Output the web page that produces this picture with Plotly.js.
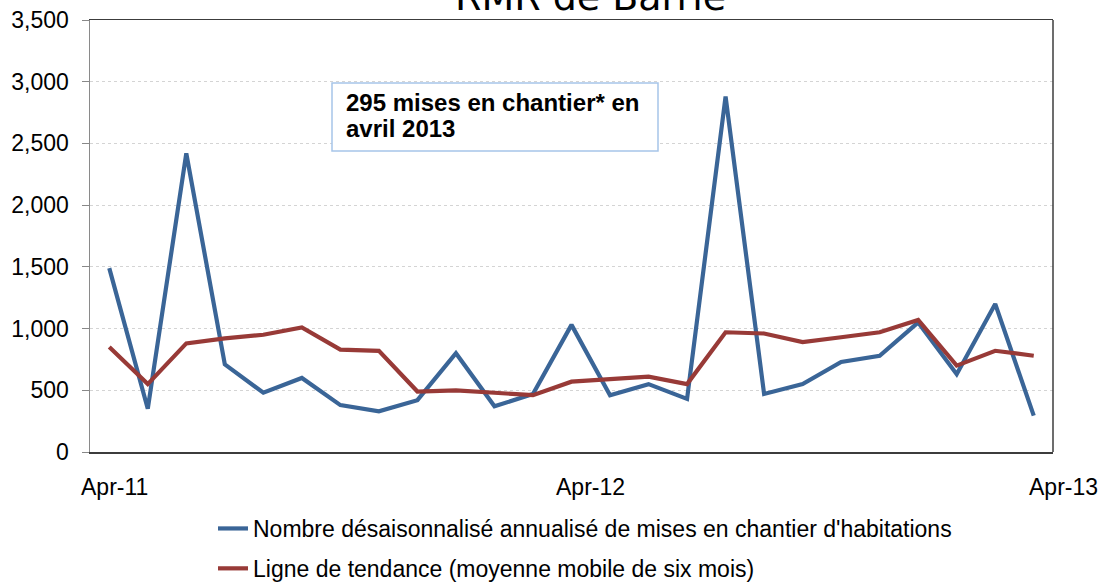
<!DOCTYPE html>
<html>
<head>
<meta charset="utf-8">
<script src="https://cdn.plot.ly/plotly-3.0.1.min.js"></script>
<style>html,body{margin:0;padding:0;background:#fff;}#chart{width:1105px;height:582px;}</style>
</head>
<body>
<div id="chart"></div>
<script>
// Monthly periods Apr-2011 .. Apr-2013 (25 months)
const months = ['2011-04','2011-05','2011-06','2011-07','2011-08','2011-09','2011-10','2011-11','2011-12',
  '2012-01','2012-02','2012-03','2012-04','2012-05','2012-06','2012-07','2012-08','2012-09','2012-10',
  '2012-11','2012-12','2013-01','2013-02','2013-03','2013-04'];
const starts = [1490, 350, 2420, 710, 480, 600, 380, 330, 420, 800, 370, 470, 1030, 460, 550, 430,
  2880, 470, 550, 730, 780, 1050, 630, 1200, 295];
const trend = [850, 550, 880, 920, 950, 1010, 830, 820, 490, 500, 480, 460, 570, 590, 610, 550,
  970, 960, 890, 930, 970, 1070, 700, 820, 780];
const tickLabels = ['Apr-11', 'Apr-12', 'Apr-13'];
const tickIndex = [0, 12, 24];
const seriesNames = ["Nombre désaisonnalisé annualisé de mises en chantier d'habitations",
  "Ligne de tendance (moyenne mobile de six mois)"];
const titleText = 'RMR de Barrie';
const boxLines = ['295 mises en chantier* en', 'avril 2013'];

const idx = months.map((m, i) => i);
const tickShift = [5, 19, 30];
const FONT = 'Liberation Sans, Arial, sans-serif';

const traces = [
  {x: idx, y: starts, type: 'scatter', mode: 'lines', name: seriesNames[0], legendgroup: 'a',
   line: {color: '#3a6597', width: 4.2}, text: months, hoverinfo: 'text+y'},
  {x: idx, y: trend, type: 'scatter', mode: 'lines', name: seriesNames[1], legendgroup: 'b',
   line: {color: '#983a37', width: 4.2}, text: months, hoverinfo: 'text+y'}
];

const annotations = tickLabels.map((t, k) => ({
  text: t, x: tickIndex[k], xref: 'x', y: 0, yref: 'paper', yanchor: 'top', xanchor: 'center',
  yshift: -20, xshift: tickShift[k], showarrow: false,
  font: {family: FONT, size: 23, color: '#000'}
}));
annotations.push({
  text: titleText, xref: 'paper', x: 0.52, yref: 'paper', y: 1, yanchor: 'bottom', xanchor: 'center',
  yshift: -1, showarrow: false,
  font: {family: 'DejaVu Sans, sans-serif', size: 38, color: '#000'}
});
const boxLineY = [0.8079, 0.7477];
boxLines.forEach((t, k) => annotations.push({
  text: t, xref: 'paper', x: (345 - 90) / 963, yref: 'paper', y: boxLineY[k], xanchor: 'left', yanchor: 'middle',
  showarrow: false, borderpad: 0,
  font: {family: FONT, size: 24, color: '#000', weight: 'bold'}
}));

const layout = {
  width: 1105, height: 582,
  margin: {l: 90, r: 52, t: 20, b: 130, autoexpand: false},
  paper_bgcolor: '#fff', plot_bgcolor: '#fff',
  showlegend: true,
  legend: {orientation: 'v', x: (213 - 90) / 963, xanchor: 'left', y: -0.1273, yanchor: 'top',
    traceorder: 'grouped', tracegroupgap: 7,
    font: {family: FONT, size: 23, color: '#000'}},
  xaxis: {range: [-0.5, 24.5], showticklabels: false, ticks: '', showgrid: false, zeroline: false,
    showline: true, linecolor: '#3c3c3c', linewidth: 1.5, mirror: true, fixedrange: true},
  yaxis: {range: [0, 3500], dtick: 500, tickformat: ',', ticks: 'outside', ticklen: 7, tickcolor: '#888',
    showline: true, linecolor: '#8a8a8a', linewidth: 1.5, zeroline: false,
    showgrid: true, gridcolor: '#d4d4d4', griddash: 'dot', gridwidth: 1, ticklabelstandoff: 8,
    tickfont: {family: FONT, size: 23, color: '#000'}, fixedrange: true},
  shapes: [
    {type: 'line', xref: 'paper', yref: 'paper', x0: 1, x1: 1, y0: 0, y1: 1,
     line: {color: '#3c3c3c', width: 1.5}},
    {type: 'rect', xref: 'paper', yref: 'paper', x0: (332 - 90) / 963, x1: (658 - 90) / 963,
     y0: (452 - 151) / 432, y1: (452 - 83) / 432, fillcolor: '#fff', layer: 'above',
     line: {color: '#a7c5e9', width: 1.5}}
  ],
  annotations: annotations
};

Plotly.newPlot('chart', traces, layout, {displayModeBar: false, staticPlot: true});
</script>
</body>
</html>
